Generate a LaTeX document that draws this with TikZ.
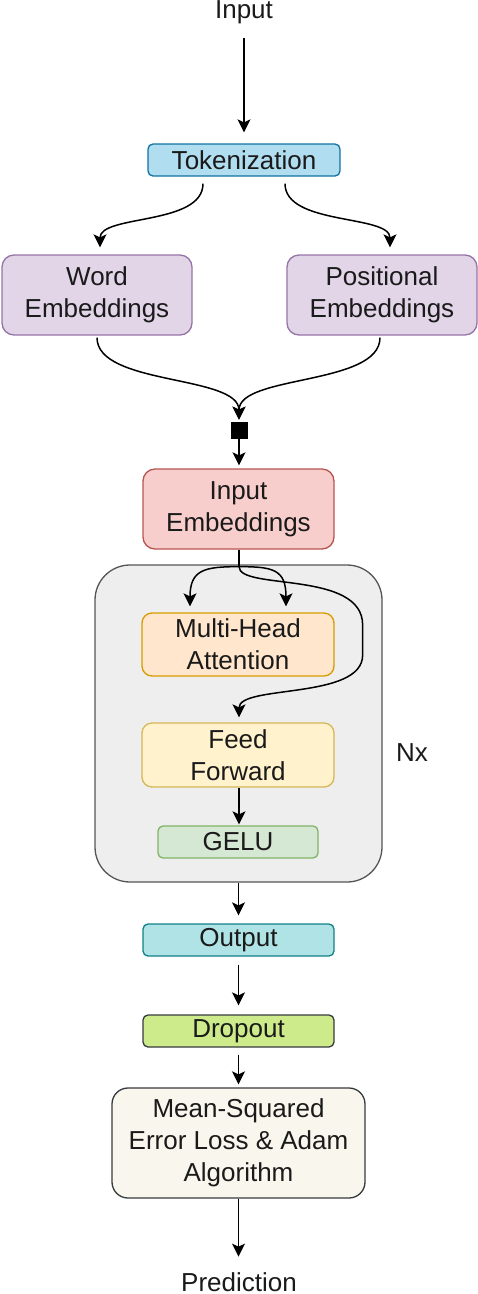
\documentclass[tikz,border=0pt]{standalone}
\usepackage{fontspec}
\setmainfont{Liberation Sans}
\usetikzlibrary{arrows.meta,calc}
\definecolor{tokfill}{HTML}{B1DDF0}\definecolor{tokdraw}{HTML}{10739E}
\definecolor{embfill}{HTML}{E1D5E7}\definecolor{embdraw}{HTML}{9673A6}
\definecolor{iefill}{HTML}{F8CECC}\definecolor{iedraw}{HTML}{B85450}
\definecolor{contfill}{HTML}{EEEEEE}\definecolor{contdraw}{HTML}{555555}
\definecolor{mhafill}{HTML}{FFE6CC}\definecolor{mhadraw}{HTML}{D79B00}
\definecolor{fffill}{HTML}{FFF2CC}\definecolor{ffdraw}{HTML}{D6B656}
\definecolor{gelufill}{HTML}{D5E8D4}\definecolor{geludraw}{HTML}{82B366}
\definecolor{outfill}{HTML}{B0E3E6}\definecolor{outdraw}{HTML}{0E8088}
\definecolor{dropfill}{HTML}{CDEB8B}\definecolor{dropdraw}{HTML}{36393D}
\definecolor{msefill}{HTML}{F9F7ED}\definecolor{msedraw}{HTML}{36393D}
\definecolor{txt}{HTML}{1A1A1A}
\tikzset{myhead/.tip={Stealth[length=13pt,width=13pt,inset=3pt]}}
\begin{document}
\begin{tikzpicture}[x=1pt,y=-1pt,
  every node/.style={font=\fontsize{26}{32}\selectfont, text=txt},
  box/.style={draw, line width=1.3pt, rounded corners=#1, align=center, inner sep=0pt},
  box/.default=10pt,
  arr/.style={line width=1.5pt, draw=black, -myhead},
  plain/.style={line width=1.5pt, draw=black}]
\useasboundingbox (0,0) rectangle (478,1294);
% container
\node[box=35pt, fill=contfill, draw=contdraw, minimum width=287pt, minimum height=317pt] (cont) at (238.5,723.5) {};
% nodes
\node[anchor=base] (in) at (244,18) {Input};
\node[box=5pt, fill=tokfill, draw=tokdraw, minimum width=192pt, minimum height=32pt] (tok) at (244,160) {Tokenization};
\node[box=12pt, fill=embfill, draw=embdraw, minimum width=190pt, minimum height=80pt] (we) at (97,295) {Word\\Embeddings};
\node[box=12pt, fill=embfill, draw=embdraw, minimum width=190pt, minimum height=80pt] (pe) at (382,295) {Positional\\Embeddings};
\node[fill=black, draw=black, line width=0.8pt, minimum width=16pt, minimum height=16pt, inner sep=0pt] (sq) at (239,430) {};
\node[box=12pt, fill=iefill, draw=iedraw, minimum width=191pt, minimum height=80pt] (ie) at (238.5,509) {Input\\Embeddings};
\node[box=10pt, fill=mhafill, draw=mhadraw, minimum width=192pt, minimum height=63pt] (mha) at (238,644.5) {Multi-Head\\Attention};
\node[box=10pt, fill=fffill, draw=ffdraw, minimum width=192pt, minimum height=64pt] (ff) at (238,755) {Feed\\Forward};
\node[box=5pt, fill=gelufill, draw=geludraw, minimum width=160pt, minimum height=32pt] (gelu) at (238,842) {GELU};
\node (nx) at (412,753) {Nx};
\node[box=5pt, fill=outfill, draw=outdraw, minimum width=191pt, minimum height=32pt] (out) at (238.5,940) {Output};
\node[box=5pt, fill=dropfill, draw=dropdraw, minimum width=191pt, minimum height=32pt] (drop) at (238.5,1031) {Dropout};
\node[box=16pt, fill=msefill, draw=msedraw, minimum width=253pt, minimum height=110pt] (mse) at (238.5,1143) {Mean-Squared\\Error Loss \& Adam\\Algorithm};
\node[anchor=base] (pred) at (239,1291) {Prediction};
% connectors
\draw[arr, shorten <=11pt, shorten >=11pt] (in.south) -- (in.south |- tok.north);
\draw[arr] ($(tok.south)+(-41,7)$) .. controls +(0,42) and +(0,-33) .. ($(we.north)+(3,-7)$);
\draw[arr] ($(tok.south)+(41,7)$) .. controls +(0,42) and +(0,-33) .. ($(pe.north)+(8,-7)$);
\draw[arr] ($(we.south)+(0,2)$) .. controls +(0,48) and +(0,-45) .. ($(sq.north)+(0,-2)$);
\draw[arr] ($(pe.south)+(-2,2)$) .. controls +(0,48) and +(0,-45) .. ($(sq.north)+(0,-2)$);
\draw[arr, shorten >=3pt] (sq.south) -- (sq.south |- ie.north);
\coordinate (split) at ($(ie.south)+(0.5,17)$);
\coordinate (r1) at ($(mha.east)+(28,-19.5)$);
\coordinate (r2) at ($(mha.east)+(28,10.5)$);
\draw[plain] (split |- ie.south) -- (split);
\draw[arr] (split) .. controls +(-34,0) and +(0,-37) .. ($(mha.north)+(-48,-6)$);
\draw[arr] (split) .. controls +(34,0) and +(0,-37) .. ($(mha.north)+(48,-6)$);
\draw[arr] (split) .. controls +(0,24) and +(0,-55) .. (r1) -- (r2) .. controls +(0,45) and +(0,-33) .. ($(ff.north)+(1,-5)$);
\draw[arr, shorten >=1pt] ($(ff.south)+(1,0)$) -- ($(gelu.north)+(1,0)$);
\draw[arr, shorten >=8pt] (cont.south) -- (cont.south |- out.north);
\draw[arr, shorten <=8pt, shorten >=9pt] (out.south) -- (drop.north);
\draw[arr, shorten <=7pt, shorten >=3pt] (drop.south) -- (mse.north);
\draw[arr, shorten >=12pt] (mse.south) -- (mse.south |- pred.north);
\end{tikzpicture}
\end{document}
